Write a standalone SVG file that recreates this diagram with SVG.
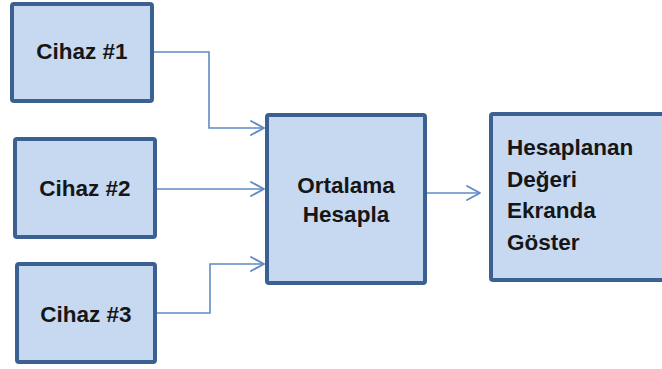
<svg xmlns="http://www.w3.org/2000/svg" width="662" height="369" viewBox="0 0 662 369">
  <defs>
    <style>
      .box { fill: #c6d9f1; stroke: #3b6193; stroke-width: 4; }
      .lbl { font-family: "Liberation Sans", Arial, sans-serif; font-weight: bold; font-size: 22.5px; fill: #161616; }
      .mid { text-anchor: middle; }
      .wire { fill: none; stroke: #5f8bc4; stroke-width: 1.6; }
      .head { fill: none; stroke: #5f8bc4; stroke-width: 1.8; stroke-linecap: round; stroke-linejoin: round; }
    </style>
  </defs>
  <rect width="662" height="369" fill="#ffffff"/>

  <!-- connectors -->
  <g id="connectors">
    <polyline class="wire" points="154,52 209,52 209,128 263,128"/>
    <path class="head" d="M251,121 L264,128 L251,135"/>
    <polyline class="wire" points="157,189 263,189"/>
    <path class="head" d="M251,182 L264,189 L251,196"/>
    <polyline class="wire" points="157,313 210,313 210,264 263,264"/>
    <path class="head" d="M251,257 L264,264 L251,271"/>
    <polyline class="wire" points="427,193 480,193"/>
    <path class="head" d="M467,186 L480,193 L467,200"/>
  </g>

  <g id="device1">
    <rect class="box" x="12" y="4" width="140" height="97" rx="2"/>
    <text class="lbl mid" x="82" y="59">Cihaz #1</text>
  </g>
  <g id="device2">
    <rect class="box" x="15" y="139" width="140" height="98" rx="2"/>
    <text class="lbl mid" x="85" y="196">Cihaz #2</text>
  </g>
  <g id="device3">
    <rect class="box" x="17" y="264" width="138" height="98" rx="2"/>
    <text class="lbl mid" x="86" y="322">Cihaz #3</text>
  </g>
  <g id="average">
    <rect class="box" x="267" y="115" width="158" height="168" rx="2"/>
    <text class="lbl mid" x="346" y="193">Ortalama</text>
    <text class="lbl mid" x="346" y="222">Hesapla</text>
  </g>
  <g id="display">
    <rect class="box" x="491" y="114" width="200" height="166" rx="2"/>
    <text class="lbl" x="507" y="155">Hesaplanan</text>
    <text class="lbl" x="507" y="187">Değeri</text>
    <text class="lbl" x="507" y="218">Ekranda</text>
    <text class="lbl" x="507" y="250">Göster</text>
  </g>
</svg>
